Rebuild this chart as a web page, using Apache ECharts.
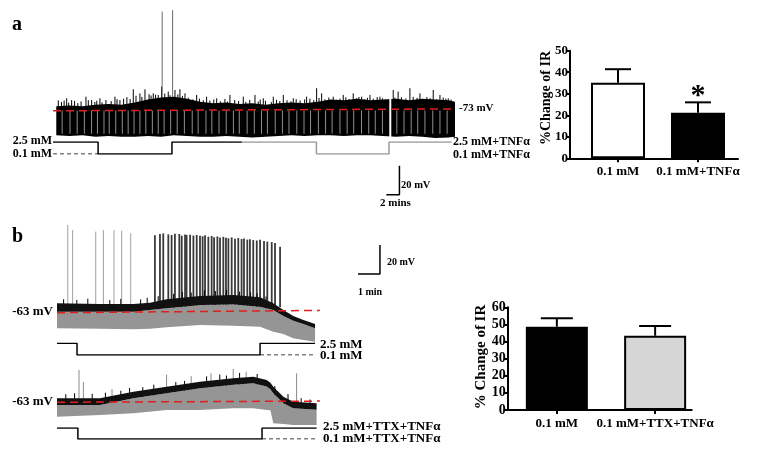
<!DOCTYPE html>
<html>
<head>
<meta charset="utf-8">
<script src="https://cdn.jsdelivr.net/npm/echarts@6/dist/echarts.min.js"></script>
<style>
html, body { margin: 0; padding: 0; background: #fff; }
#chart { width: 758px; height: 454px; }
</style>
</head>
<body>
<div id="chart"></div>
<script>
// ---- panel a: whole-cell trace (time in min, potential in mV) ----
const aTime = [0, 2, 4, 6, 8, 10, 12, 14, 16, 18, 20, 22, 24, 26, 28, 30, 32, 34, 36, 38, 40, 42, 44, 46, 48, 50, 52, 54, 56, 58, 60, 61]
const aTop = [-71, -70.5, -71, -70, -69.5, -70, -68.5, -66.5, -65, -64.5, -66, -68, -69, -68.5, -69.5, -69, -70, -69, -68.5, -69, -68, -66.5, -67, -66, -67, -66.5, -66, -67, -66, -66.5, -67, -68]
const aBottom = [-91, -91.5, -91, -92, -91.5, -92, -92, -91.5, -92, -91, -91.5, -92, -92, -91.5, -92, -92.5, -92, -91.5, -91, -91.5, -91, -91, -91.5, -91, -91, -91.5, -92, -91.5, -92, -93, -92.5, -92]
const aGrassT = [0.31, 1.59, 2.35, 4.54, 5.41, 6.68, 8.98, 9.74, 11.78, 12.8, 13.57, 14.84, 15.6, 16.12, 17.13, 18.16, 18.92, 19.69, 21.48, 23.0, 24.54, 26.57, 28.61, 30.4, 31.67, 33.2, 34.73, 36.26, 38.3, 39.83, 40.6, 42.37, 43.9, 45.43, 46.72, 47.99, 49.52, 51.55, 52.3, 54.1, 55.64, 57.67, 58.7, 59.97]
const aGrassV = [-67, -65.6, -66.8, -64.5, -66.8, -65.6, -64.5, -66.8, -59.4, -62.2, -59.4, -62.2, -63.3, -57.6, -61, -59.9, -59.4, -62.2, -63.3, -64.5, -65.6, -63.3, -64.5, -63.3, -65.6, -64.5, -63.3, -65.6, -64.5, -58.7, -62.2, -64.5, -63.3, -62.2, -64.5, -63.3, -64.5, -59.9, -61, -58.7, -62.2, -59.9, -63.3, -65.6]
const aFuzzT = [0.8, 1.2, 1.9, 2.8, 3.3, 3.8, 4.9, 5.9, 6.2, 7.0, 7.6, 8.4, 9.3, 10.3, 10.8, 11.3, 12.2, 13.1, 14.2, 14.5, 15.2, 16.6, 17.4, 18.6, 19.3, 20.2, 20.9, 21.9, 22.5, 23.5, 24.1, 25.1, 25.8, 26.2, 27.3, 27.9, 29.0, 29.6, 30.9, 31.2, 32.0, 32.9, 33.7, 34.2, 35.3, 35.9, 36.7, 37.3, 38.0, 38.8, 39.4, 40.2, 41.1, 41.7, 42.9, 43.4, 44.3, 44.8, 45.9, 46.3, 47.2, 47.6, 48.5, 49.1, 49.9, 50.4, 51.8, 52.8, 53.5, 54.6, 55.2, 56.1, 56.7, 57.2, 58.2, 59.2, 59.6, 60.4]
const aFuzzV = [-68.2, -67.1, -68.6, -67.4, -68.9, -67.8, -66.9, -68.1, -67.3, -68.4, -66.8, -67.5, -66.2, -65.9, -64.8, -66.1, -63.9, -64.6, -62.8, -63.7, -63.1, -62.4, -63.5, -62.9, -64.1, -65.2, -66.3, -65.8, -66.9, -67.2, -66.4, -67.6, -66.1, -67.9, -66.8, -67.4, -68.1, -66.7, -67.8, -66.5, -67.3, -68.2, -66.6, -67.5, -66.9, -67.7, -66.2, -67.1, -66.4, -65.9, -66.8, -65.4, -66.3, -65.1, -66.6, -65.8, -64.9, -66.1, -65.5, -64.7, -66.2, -65.3, -65.9, -64.8, -65.6, -66.4, -65.2, -64.9, -65.7, -64.6, -65.3, -66.1, -64.8, -65.5, -66.2, -65.1, -65.8, -66.5]
const aGapT = [0.9, 2.1, 3.2, 4.3, 5.4, 6.3, 7.3, 8.1, 9.1, 10.1, 11.0, 11.9, 12.8, 13.7, 14.7, 15.6, 16.5, 17.5, 18.5, 19.6, 20.8, 21.7, 22.9, 23.8, 24.9, 26.0, 27.1, 28.0, 29.2, 30.3, 31.4, 32.3, 33.5, 34.6, 35.6, 36.8, 37.9, 38.9, 40.1, 41.2, 42.2, 43.4, 44.5, 45.5, 46.7, 47.8, 48.8, 49.9, 52.1, 53.2, 54.3, 55.3, 56.4, 57.6, 58.7, 59.8]
const aBreakT = [51.1]
const aSpikeT = [16.2, 17.8]
const aSpikeV = [-6, -5]
const aRest = [[-0.5, -74.2], [61, -72.9]]           // -73 mV reference
const aScale = [[50.5, -132], [52.5, -132], [52.5, -112]] // 2 min / 20 mV

// ---- panel a: bath Ca2+ (mM) ----
const aStimBlackT = [-0.5, 6.4, 17.7, 28.4]
const aStimBlackC = [2.5, 0.1, 2.5, 2.5]
const aStimGrayT = [28.4, 39.8, 50.9, 60.5]
const aStimGrayC = [2.5, 0.1, 2.5, 2.5]
const aStimDashT = [-0.5, 6.4]

// ---- panel a: bar chart ----
const aBarCats = ['0.1 mM', '0.1 mM+TNF\u03b1']
const aBarMean = [35.1, 21.2]
const aBarTop = [41.4, 26.0]

// ---- panel b: upper trace ----
const b1Time = [0, 1.95, 3.47, 4.23, 4.98, 6.5, 8.01, 9.23, 9.83, 10.29, 10.74, 11.2, 11.73]
const b1Top = [-57.3, -57.8, -57.8, -56.9, -54.6, -52.3, -51.6, -53.2, -57.3, -61.9, -66.0, -68.8, -71.6]
const b1Mid = [-63.1, -63.1, -63.1, -61.9, -60.7, -58.5, -58.0, -59.6, -61.9, -66.0, -69.3, -71.6, -74.5]
const b1Low = [-74.5, -74.8, -75.2, -74.8, -73.8, -72.2, -72.7, -73.4, -76.8, -78.4, -81.4, -82.6, -83.7]
const b1FuzzT = [0.3, 0.9, 1.4, 2.4, 2.9, 3.8, 4.1, 4.6, 5.3, 5.7, 6.1, 6.7, 7.2, 7.7, 8.3, 8.8, 9.1, 9.5]
const b1FuzzV = [-54.5, -55, -54.2, -55.1, -54.3, -54.6, -53.5, -52.4, -50.8, -49.6, -49.9, -48.4, -48.9, -48.1, -49.3, -49.8, -50.5, -52.6]
const b1SparseT = [0.49, 0.71, 1.76, 2.11, 2.59, 2.94, 3.35]
const b1SparseV = [-3.4, -6.9, -8.0, -6.9, -6.9, -7.4, -9.2]
const b1DenseT = [4.45, 4.68, 4.83, 5.06, 5.21, 5.36, 5.56, 5.67, 5.82, 5.89, 6.05, 6.2, 6.35, 6.5, 6.62, 6.73, 6.88, 7.03, 7.14, 7.29, 7.41, 7.56, 7.68, 7.79, 7.94, 8.09, 8.24, 8.39, 8.5, 8.65, 8.77, 8.92, 9.08, 9.23, 9.41, 9.56, 9.76, 9.91, 10.14]
const b1DenseV = [-10.5, -9.6, -9.2, -9.9, -10.3, -9.4, -9.6, -10.8, -9.9, -10.3, -10.1, -10.7, -10.3, -10.9, -11.2, -10.5, -11.5, -11.0, -11.8, -11.3, -12.0, -11.6, -12.2, -12.6, -12.0, -12.9, -12.4, -13.1, -12.8, -13.5, -13.2, -13.8, -14.1, -13.6, -14.4, -14.9, -15.2, -15.8, -18.4]
const b1Rest = [[0, -63.8], [11.95, -62.2]]
const bScale = [[13.68, -37.2], [14.68, -37.2], [14.68, -17.2]] // 1 min / 20 mV
const b1StimT = [0, 0.91, 9.23, 11.73]
const b1StimC = [2.5, 0.1, 2.5, 2.5]
const b1DashT = [9.23, 11.73]

// ---- panel b: lower trace (TTX) ----
const b2Time = [0, 1.95, 3.47, 4.98, 6.5, 8.01, 8.92, 9.53, 9.7, 9.83, 10.29, 10.74, 11.8]
const b2Top = [-60.3, -60.3, -55.7, -52.3, -48.8, -46.5, -45.4, -47.7, -49.5, -52.3, -59.2, -62.6, -63.7]
const b2Mid = [-64.8, -64.8, -60.2, -56.8, -53.3, -51.0, -49.9, -52.2, -54.0, -56.8, -63.7, -67.1, -68.2]
const b2Low = [-72.9, -71.8, -70.6, -68.3, -68.3, -67.1, -67.1, -68.3, -68.5, -77.5, -78.0, -78.6, -78.6]
const b2FuzzT = [0.4, 0.8, 1.6, 2.2, 2.9, 3.3, 3.9, 4.4, 5.4, 5.8, 6.8, 7.4, 7.7, 8.3, 9.1, 9.9, 10.5, 11.1, 11.5]
const b2FuzzV = [-57.5, -56.8, -57.2, -56.4, -55.1, -53.2, -52.6, -50.9, -49.1, -48.3, -45.2, -43.9, -44.6, -42.8, -43.5, -51.8, -57.4, -60.2, -61.1]
const b2SpikeT = [1.0, 1.2, 2.5, 4.98, 6.1, 7.0, 8.01, 8.6, 10.89]
const b2SpikeV = [-40.8, -49, -54, -44, -45, -43, -40, -42, -43.1]
const b2Rest = [[0, -63.0], [11.95, -62.2]]
const b2StimT = [0, 0.95, 9.32, 11.8]
const b2StimC = [2.5, 0.1, 2.5, 2.5]
const b2DashT = [9.32, 11.8]

// ---- panel b: bar chart ----
const bBarCats = ['0.1 mM', '0.1 mM+TTX+TNF\u03b1']
const bBarMean = [48.7, 43.4]
const bBarTop = [53.6, 49.1]

const FONT = '"Liberation Serif", "DejaVu Serif", serif'
const chart = echarts.init(document.getElementById('chart'), null, { renderer: 'canvas' })

const zip = (xs, ys) => xs.map((x, i) => [x, ys[i]])

// filled region between two traced edges
function band(idx, t, up, lo, color, z) {
  return {
    type: 'custom', xAxisIndex: idx, yAxisIndex: idx, z: z, silent: true,
    data: [[t[0], up[0]]],
    renderItem: function (params, api) {
      const pts = []
      for (let i = 0; i < t.length; i++) pts.push(api.coord([t[i], up[i]]))
      for (let i = t.length - 1; i >= 0; i--) pts.push(api.coord([t[i], lo[i]]))
      return { type: 'polygon', shape: { points: pts }, style: { fill: color } }
    }
  }
}

// vertical strokes (spikes, pulses) from a base value to a peak value
function vlines(idx, t, to, from, color, width, z) {
  return {
    type: 'custom', xAxisIndex: idx, yAxisIndex: idx, z: z, silent: true,
    data: t.map((v, i) => [v, Array.isArray(to) ? to[i] : to, Array.isArray(from) ? from[i] : from]),
    renderItem: function (params, api) {
      const p0 = api.coord([api.value(0), api.value(2)])
      const p1 = api.coord([api.value(0), api.value(1)])
      return { type: 'line', shape: { x1: p0[0], y1: p0[1], x2: p1[0], y2: p1[1] }, style: { stroke: color, lineWidth: width } }
    }
  }
}

function line(idx, data, color, width, opts) {
  return Object.assign({
    type: 'line', xAxisIndex: idx, yAxisIndex: idx, data: data, symbol: 'none', silent: true,
    lineStyle: { color: color, width: width }, z: 6
  }, opts || {})
}

const dashed = (idx, data) => line(idx, data, '#000', 1.2, { lineStyle: { color: '#000', width: 1.2, type: [4, 3] } })
const redRef = (idx, data) => line(idx, data, '#e0201c', 1.5, { lineStyle: { color: '#e0201c', width: 1.5, type: [8, 5] } })

function errBars(idx, xs, means, tops, cap) {
  return {
    type: 'custom', xAxisIndex: idx, yAxisIndex: idx, z: 5, silent: true,
    data: xs.map((x, i) => [x, means[i], tops[i]]),
    renderItem: function (params, api) {
      const b = api.coord([api.value(0), api.value(1)])
      const t = api.coord([api.value(0), api.value(2)])
      return {
        type: 'group', children: [
          { type: 'line', shape: { x1: b[0], y1: b[1], x2: t[0], y2: t[1] }, style: { stroke: '#000', lineWidth: 2 } },
          { type: 'line', shape: { x1: t[0] - cap, y1: t[1], x2: t[0] + cap, y2: t[1] }, style: { stroke: '#000', lineWidth: 2 } }
        ]
      }
    }
  }
}

const hidden = (g, min, max) => ({ gridIndex: g, type: 'value', min: min, max: max, show: false })

function barX(g, min, max, cats) {
  return {
    gridIndex: g, type: 'value', min: min, max: max,
    axisLine: { show: true, onZero: false, lineStyle: { color: '#000', width: 2 } },
    axisTick: { show: true, customValues: [1, 2], length: 4, lineStyle: { color: '#000', width: 2 } },
    axisLabel: {
      customValues: [1, 2], formatter: v => cats[Math.round(v) - 1],
      color: '#000', fontFamily: FONT, fontWeight: 'bold', fontSize: 13, margin: 7
    },
    splitLine: { show: false }
  }
}

function barY(g, max, size) {
  return {
    gridIndex: g, type: 'value', min: 0, max: max, interval: 10,
    axisLine: { show: true, onZero: false, lineStyle: { color: '#000', width: 2 } },
    axisTick: { show: true, length: 4, lineStyle: { color: '#000', width: 2 } },
    axisLabel: { color: '#000', fontFamily: FONT, fontWeight: 'bold', fontSize: size, margin: 2 },
    splitLine: { show: false }
  }
}

function txt(x, y, s, size, align, rot) {
  return {
    type: 'text', x: x, y: y, rotation: rot || 0, silent: true,
    style: {
      text: s, fill: '#000', font: 'bold ' + size + 'px ' + FONT,
      align: align || 'left', verticalAlign: 'middle', textAlign: align || 'left', textVerticalAlign: 'middle'
    }
  }
}

const grid = (left, top, width, height) => ({ left: left, top: top, width: width, height: height, outerBoundsMode: 'none' })

const option = {
  backgroundColor: '#fff',
  animation: false,
  grid: [
    grid(53, 0, 402, 205),         // 0 trace a
    grid(53, 142, 402, 12),        // 1 stim a
    grid(570, 50.7, 168, 107.6),   // 2 bars a
    grid(57, 220, 330, 125),       // 3 trace b1
    grid(57, 343.3, 330, 11.7),    // 4 stim b1
    grid(57, 310.7, 330, 125),     // 5 trace b2
    grid(57, 428, 330, 11),        // 6 stim b2
    grid(507.7, 307.3, 184, 102.7) // 7 bars b
  ],
  xAxis: [
    hidden(0, -0.5, 61), hidden(1, -0.5, 61), barX(2, 0.4, 2.5, aBarCats),
    hidden(3, 0, 15), hidden(4, 0, 15), hidden(5, 0, 15), hidden(6, 0, 15),
    barX(7, 0.5, 2.372, bBarCats)
  ],
  yAxis: [
    hidden(0, -139, 2), hidden(1, 0.1, 2.5), barY(2, 50, 13),
    hidden(3, -86, 0), hidden(4, 0.1, 2.5), hidden(5, -86, 0), hidden(6, 0.1, 2.5),
    barY(7, 60, 14)
  ],
  series: [
    // panel a trace
    vlines(0, aGrassT, aGrassV, -75, '#000', 1, 2),
    vlines(0, aFuzzT, aFuzzV, -75, '#000', 1, 2),
    vlines(0, aSpikeT, aSpikeV, -75, '#6a6a6a', 1, 2),
    band(0, aTime, aTop, aBottom, '#000', 3),
    vlines(0, aGapT, -74, -90, '#8f8f8f', 1, 4),
    vlines(0, aBreakT, -66, -93, '#fff', 2, 4),
    redRef(0, aRest),
    line(0, aScale, '#000', 1.5),
    line(1, zip(aStimBlackT, aStimBlackC), '#000', 1.5, { step: 'end' }),
    line(1, zip(aStimGrayT, aStimGrayC), '#9a9a9a', 1.5, { step: 'end' }),
    dashed(1, aStimDashT.map(t => [t, 0.1])),
    // panel a bars
    {
      type: 'bar', xAxisIndex: 2, yAxisIndex: 2, barWidth: 54, z: 3, silent: true,
      data: aBarMean.map((m, i) => ({
        value: [i + 1, m],
        itemStyle: i === 0 ? { color: '#fff', borderColor: '#000', borderWidth: 2 } : { color: '#000', borderColor: '#000', borderWidth: 2 }
      }))
    },
    errBars(2, [1, 2], aBarMean, aBarTop, 13),
    // panel b upper trace
    vlines(3, b1SparseT, b1SparseV, -60, '#a0a0a0', 1, 2),
    vlines(3, b1DenseT, b1DenseV, -60, '#3a3a3a', 1.8, 2),
    vlines(3, b1FuzzT, b1FuzzV, -62, '#000', 1, 2),
    band(3, b1Time, b1Mid, b1Low, '#959595', 3),
    band(3, b1Time, b1Top, b1Mid, '#111', 4),
    redRef(3, b1Rest),
    line(3, bScale, '#000', 1.5),
    line(4, zip(b1StimT, b1StimC), '#000', 1.5, { step: 'end' }),
    dashed(4, b1DashT.map(t => [t, 0.1])),
    // panel b lower trace
    vlines(5, b2SpikeT, b2SpikeV, -64, '#8a8a8a', 1, 2),
    vlines(5, b2FuzzT, b2FuzzV, -64, '#000', 1, 2),
    band(5, b2Time, b2Mid, b2Low, '#959595', 3),
    band(5, b2Time, b2Top, b2Mid, '#111', 4),
    redRef(5, b2Rest),
    line(6, zip(b2StimT, b2StimC), '#000', 1.5, { step: 'end' }),
    dashed(6, b2DashT.map(t => [t, 0.1])),
    // panel b bars
    {
      type: 'bar', xAxisIndex: 7, yAxisIndex: 7, barWidth: 62, z: 3, silent: true,
      data: bBarMean.map((m, i) => ({
        value: [i + 1, m],
        itemStyle: i === 0 ? { color: '#000', borderColor: '#000', borderWidth: 2 } : { color: '#d6d6d6', borderColor: '#000', borderWidth: 2 }
      }))
    },
    errBars(7, [1, 2], bBarMean, bBarTop, 16)
  ],
  graphic: [
    txt(12, 25, 'a', 20),
    txt(52, 141, '2.5 mM', 12, 'right'),
    txt(52, 154, '0.1 mM', 12, 'right'),
    txt(459, 108, '-73 mV', 11),
    txt(453, 142, '2.5 mM+TNF\u03b1', 12),
    txt(453, 155, '0.1 mM+TNF\u03b1', 12),
    txt(401, 185, '20 mV', 10.5),
    txt(380, 203, '2 mins', 11),
    txt(546, 98, '%Change of IR', 14, 'center', Math.PI / 2),
    txt(698, 96, '*', 30, 'center'),
    txt(12, 237, 'b', 20),
    txt(53, 312, '-63 mV', 13, 'right'),
    txt(53, 402, '-63 mV', 13, 'right'),
    txt(320, 345, '2.5 mM', 13),
    txt(320, 356, '0.1 mM', 13),
    txt(323, 427, '2.5 mM+TTX+TNF\u03b1', 13),
    txt(323, 439, '0.1 mM+TTX+TNF\u03b1', 13),
    txt(387, 262, '20 mV', 10),
    txt(370, 292, '1 min', 10, 'center'),
    txt(481, 357, '% Change of IR', 15, 'center', Math.PI / 2)
  ]
}

chart.setOption(option)
</script>
</body>
</html>
